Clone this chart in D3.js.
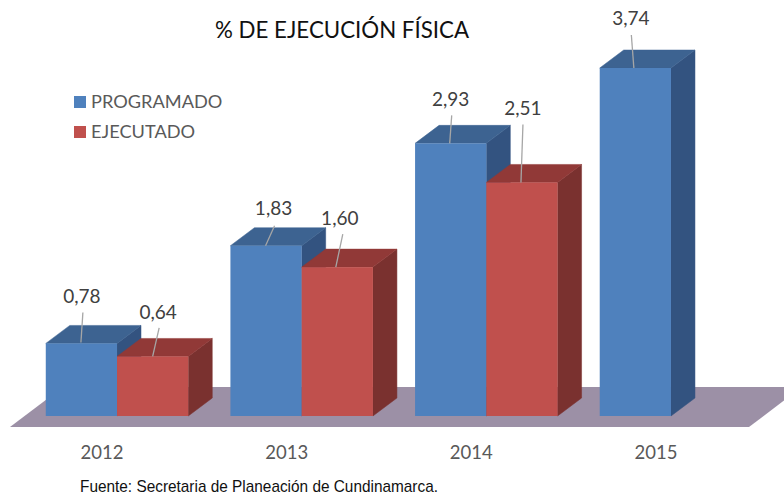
<!DOCTYPE html>
<html>
<head>
<meta charset="utf-8">
<script src="https://cdn.jsdelivr.net/npm/d3@7"></script>
<style>
html, body { margin: 0; padding: 0; background: #fff; }
svg { display: block; }
text { font-family: Lato, "Open Sans", sans-serif; }
</style>
</head>
<body>
<svg id="chart" width="784" height="497"></svg>
<script>
// chart values
var years = ["2012", "2013", "2014", "2015"];
var seriesNames = ["PROGRAMADO", "EJECUTADO"];
var programado = [0.78, 1.83, 2.93, 3.74];
var ejecutado = [0.64, 1.60, 2.51, null];

var colors = {
    PROGRAMADO: {front: "#4f81bd", top: "#3d6391", side: "#335380"},
    EJECUTADO: {front: "#c0504d", top: "#913937", side: "#7a312f"}
};

// fake 3d depth of the bars and floor
var depthX = 24, depthY = 18;
var baseY = 416;

var svg = d3.select("#chart");

var x = d3.scaleBand().domain(years).range([24.7, 763.3]);
var xInner = d3.scaleBand().domain(seriesNames).range([0, 142.5]);
var y = d3.scaleLinear().domain([0, 3.74]).range([baseY, 68]);

var rows = [];
years.forEach((year, i) => {
    rows.push({year: year, name: "PROGRAMADO", value: programado[i]});
    if (ejecutado[i] !== null)
        rows.push({year: year, name: "EJECUTADO", value: ejecutado[i]});
});

// hand placed data labels, offset from the middle of the front top edge
var labelOffsets = [[0.5, -47], [5.5, -44.5], [7.5, -37], [2.5, -49], [0, -44], [1, -74], [-4.5, -50]];
var leaderTops = [[1.5, -31], [6.5, -28.5], [8.5, -20], [5.5, -33], [1, -28], [1, -58], [-4, -33]];
var leaderEnds = [[-0.5, -1], [0, 0], [-0.5, 0], [-1.5, 0], [-1, 0], [-1, 0], [-1.5, 0]];

// floor
svg.append("polygon")
    .attr("points", [[10, 427], [749, 427], [802, 387], [63, 387]].join(" "))
    .attr("fill", "#9c90a6");

var barLeft = d => x(d.year) + x.bandwidth() / 2 - xInner.bandwidth() + xInner(d.name);

var bars = svg.selectAll(".bar")
    .data(rows)
    .enter().append("g")
    .attr("class", "bar");

bars.append("polygon")
    .attr("points", d => {
        var x1 = barLeft(d) + xInner.bandwidth();
        return [[x1, y(d.value)], [x1 + depthX, y(d.value) - depthY], [x1 + depthX, baseY - depthY], [x1, baseY]].join(" ");
    })
    .attr("fill", d => colors[d.name].side)
    .attr("stroke", d => colors[d.name].side).attr("stroke-width", 0.5);

bars.append("polygon")
    .attr("points", d => {
        var x0 = barLeft(d), x1 = x0 + xInner.bandwidth();
        return [[x0, y(d.value)], [x1, y(d.value)], [x1 + depthX, y(d.value) - depthY], [x0 + depthX, y(d.value) - depthY]].join(" ");
    })
    .attr("fill", d => colors[d.name].top)
    .attr("stroke", d => colors[d.name].top).attr("stroke-width", 0.5);

bars.append("rect")
    .attr("x", d => barLeft(d))
    .attr("y", d => y(d.value))
    .attr("width", xInner.bandwidth())
    .attr("height", d => baseY - y(d.value))
    .attr("fill", d => colors[d.name].front);

// leader lines and value labels
var barMid = d => barLeft(d) + xInner.bandwidth() / 2;

svg.selectAll(".leader")
    .data(rows)
    .enter().append("line")
    .attr("class", "leader")
    .attr("x1", (d, i) => barMid(d) + leaderTops[i][0])
    .attr("y1", (d, i) => y(d.value) + leaderTops[i][1])
    .attr("x2", (d, i) => barMid(d) + leaderEnds[i][0])
    .attr("y2", (d, i) => y(d.value) + leaderEnds[i][1])
    .attr("stroke", "#a6a6a6")
    .attr("stroke-width", 1.3);

svg.selectAll(".value")
    .data(rows)
    .enter().append("text")
    .attr("class", "value")
    .attr("x", (d, i) => barMid(d) + labelOffsets[i][0])
    .attr("y", (d, i) => y(d.value) + labelOffsets[i][1])
    .attr("dy", "0.35em")
    .attr("text-anchor", "middle")
    .attr("font-size", 19)
    .attr("fill", "#404040")
    .text(d => d.value.toFixed(2).replace(".", ","));

// year labels sit to the left of the group middle
svg.selectAll(".year")
    .data(years)
    .enter().append("text")
    .attr("class", "year")
    .attr("x", d => x(d) + x.bandwidth() / 2 - 15)
    .attr("y", 453)
    .attr("dy", "0.35em")
    .attr("text-anchor", "middle")
    .attr("font-size", 18.5)
    .attr("fill", "#595959")
    .text(d => d);

// title
svg.append("text")
    .attr("x", 342)
    .attr("y", 30)
    .attr("dy", "0.35em")
    .attr("text-anchor", "middle")
    .attr("font-size", 24)
    .attr("textLength", 254)
    .attr("lengthAdjust", "spacingAndGlyphs")
    .attr("fill", "#111")
    .text("% DE EJECUCIÓN FÍSICA");

// legend
var legend = svg.selectAll(".legend")
    .data(seriesNames)
    .enter().append("g")
    .attr("class", "legend")
    .attr("transform", (d, i) => "translate(74," + (96 + i * 30) + ")");

legend.append("rect")
    .attr("width", 12)
    .attr("height", 12)
    .attr("fill", d => colors[d].front);

legend.append("text")
    .attr("x", 17)
    .attr("y", 6)
    .attr("dy", "0.35em")
    .attr("font-size", 18.2)
    .attr("fill", "#595959")
    .text(d => d);

// source note, squeezed like the narrow face in the original
svg.append("text")
    .attr("x", 80)
    .attr("y", 486)
    .attr("dy", "0.35em")
    .style("font-family", "'Liberation Sans', sans-serif")
    .attr("font-size", 17)
    .attr("textLength", 358)
    .attr("lengthAdjust", "spacingAndGlyphs")
    .attr("fill", "#111")
    .text("Fuente: Secretaria de Planeación de Cundinamarca.");
</script>
</body>
</html>
